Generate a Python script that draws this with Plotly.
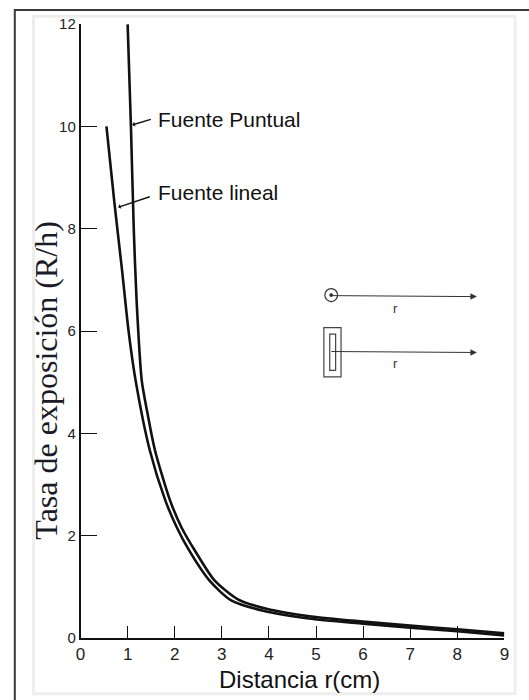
import plotly.graph_objects as go

# ---- data ----
point_x = [1.0, 1.07, 1.13, 1.19, 1.30, 1.42, 1.58, 1.90, 2.15, 2.42, 2.84, 3.33, 3.95, 4.9, 6.0, 7.0, 8.0, 9.0]
point_y = [12.0, 10.0, 8.0, 6.6, 5.03, 4.4, 3.67, 2.69, 2.15, 1.72, 1.13, 0.76, 0.57, 0.42, 0.32, 0.24, 0.17, 0.09]

line_x = [0.55, 0.72, 0.88, 1.02, 1.17, 1.47, 1.80, 2.05, 2.30, 2.73, 3.19, 3.88, 4.85, 6.0, 7.0, 8.0, 9.0]
line_y = [10.0, 8.5, 7.2, 6.0, 5.03, 3.67, 2.69, 2.15, 1.72, 1.13, 0.74, 0.53, 0.38, 0.28, 0.20, 0.13, 0.05]

x_ticks = [0, 1, 2, 3, 4, 5, 6, 7, 8, 9]
y_ticks = [0, 2, 4, 6, 8, 10, 12]

W, H = 529, 700
SY = 700 / 716  # vertical scale observed in the returned picture


def px(x):
    return x / W


def py(y):
    # y: target position in picture pixels -> paper fraction
    yp = y / SY - 8
    return 1 - yp / H


SANS = "Liberation Sans, Arial, Helvetica, sans-serif"
SERIF = "Liberation Serif, Times New Roman, serif"
INK = "#111111"

fig = go.Figure()
fig.add_trace(go.Scatter(x=point_x, y=point_y, mode="lines",
                         line=dict(color=INK, width=2.6, shape="spline", smoothing=0.7),
                         name="Fuente Puntual", showlegend=False, hoverinfo="skip"))
fig.add_trace(go.Scatter(x=line_x, y=line_y, mode="lines",
                         line=dict(color=INK, width=2.6, shape="spline", smoothing=0.7),
                         name="Fuente lineal", showlegend=False, hoverinfo="skip"))

shapes = [
    dict(type="line", xref="paper", yref="paper", x0=px(10), x1=px(535), y0=1 - 1.0 / H, y1=1 - 1.0 / H,
         line=dict(color="#3a3a3a", width=2), layer="below"),
    dict(type="line", xref="paper", yref="paper", x0=px(10), x1=px(10), y0=1, y1=py(710),
         line=dict(color="#3a3a3a", width=2), layer="below"),
    dict(type="rect", xref="paper", yref="paper", x0=px(29), x1=px(520), y0=py(694), y1=py(15),
         line=dict(color="#eeeeee", width=3), layer="below"),
    dict(type="circle", xref="paper", yref="paper", x0=px(326), x1=px(339), y0=py(301), y1=py(288),
         line=dict(color="#333333", width=1.2)),
    dict(type="circle", xref="paper", yref="paper", x0=px(331), x1=px(334), y0=py(296), y1=py(293),
         line=dict(color="#333333", width=1), fillcolor="#333333"),
    dict(type="rect", xref="paper", yref="paper", x0=px(325), x1=px(342.5), y0=py(376.5), y1=py(327),
         line=dict(color="#444444", width=1.2)),
    dict(type="rect", xref="paper", yref="paper", x0=px(331), x1=px(337), y0=py(370), y1=py(333.5),
         line=dict(color="#444444", width=1.2)),
]

annotations = [
    dict(text="Distancia r(cm)", xref="paper", yref="paper", x=px(300), y=py(680),
         showarrow=False, xanchor="center", yanchor="middle",
         font=dict(family=SANS, size=24, color=INK)),
    dict(text="Tasa de exposición (R/h)", xref="paper", yref="paper", x=px(42), y=py(380),
         showarrow=False, textangle=-90, xanchor="center", yanchor="middle",
         font=dict(family=SERIF, size=32, color="#1b1b28")),
    dict(text="Fuente Puntual", xref="paper", yref="paper", x=px(154), y=py(119),
         showarrow=False, xanchor="left", yanchor="middle",
         font=dict(family=SANS, size=21, color=INK)),
    dict(text="Fuente lineal", xref="paper", yref="paper", x=px(154), y=py(192),
         showarrow=False, xanchor="left", yanchor="middle",
         font=dict(family=SANS, size=21, color=INK)),
    dict(text="", x=1.10, y=10.03, xref="x", yref="y", ax=20, ay=-6,
         showarrow=True, arrowhead=1, arrowsize=0.6, arrowwidth=1.4, arrowcolor=INK),
    dict(text="", x=0.80, y=8.42, xref="x", yref="y", ax=33, ay=-11,
         showarrow=True, arrowhead=1, arrowsize=0.6, arrowwidth=1.4, arrowcolor=INK),
    dict(text="", xref="paper", yref="paper", x=px(481), y=py(296), ax=-148, ay=-1,
         showarrow=True, arrowhead=2, arrowsize=1.3, arrowwidth=1, arrowcolor="#333333"),
    dict(text="", xref="paper", yref="paper", x=px(481), y=py(352), ax=-147, ay=-1,
         showarrow=True, arrowhead=2, arrowsize=1.3, arrowwidth=1, arrowcolor="#333333"),
    dict(text="r", xref="paper", yref="paper", x=px(403), y=py(308),
         showarrow=False, font=dict(family=SANS, size=13, color="#333333")),
    dict(text="r", xref="paper", yref="paper", x=px(403), y=py(363),
         showarrow=False, font=dict(family=SANS, size=13, color="#333333")),
]

ydom = [py(638), py(23)]

fig.update_layout(
    width=W, height=H,
    margin=dict(l=0, r=0, t=0, b=0),
    paper_bgcolor="white", plot_bgcolor="white",
    showlegend=False,
    shapes=shapes,
    annotations=annotations,
    xaxis=dict(domain=[px(77), px(509)], range=[0, 9], tickvals=x_ticks,
               ticktext=[str(v) for v in x_ticks],
               ticks="inside", ticklen=12, tickwidth=1.4, tickcolor=INK,
               showline=True, linecolor=INK, linewidth=1.5,
               showgrid=False, zeroline=False, fixedrange=True,
               tickfont=dict(family=SANS, size=17, color="#222222")),
    yaxis=dict(domain=ydom, range=[0, 12], tickvals=y_ticks,
               ticktext=[str(v) for v in y_ticks],
               ticks="inside", ticklen=17, tickwidth=1.4, tickcolor=INK,
               showline=True, linecolor=INK, linewidth=1.5,
               showgrid=False, zeroline=False, fixedrange=True,
               tickfont=dict(family=SANS, size=15, color="#222222")),
)

fig.write_html("out.html", config={"displayModeBar": False})
